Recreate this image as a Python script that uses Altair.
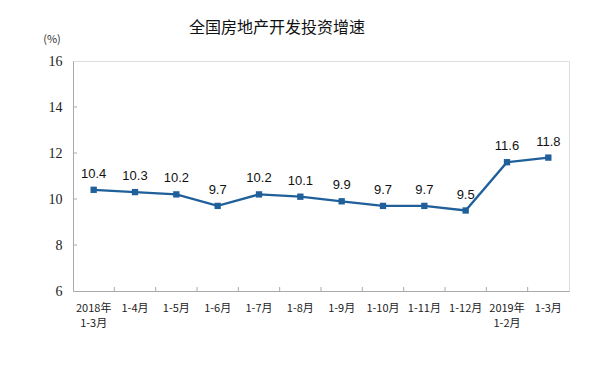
import altair as alt
import pandas as pd

categories = ["2018年|1-3月", "1-4月", "1-5月", "1-6月", "1-7月", "1-8月", "1-9月",
              "1-10月", "1-11月", "1-12月", "2019年|1-2月", "1-3月 "]
values = [10.4, 10.3, 10.2, 9.7, 10.2, 10.1, 9.9, 9.7, 9.7, 9.5, 11.6, 11.8]
y_ticks = [6, 8, 10, 12, 14, 16]
title_text = "全国房地产开发投资增速"
unit_text = "(%)"

df = pd.DataFrame({"cat": categories, "val": values})
color = "#1F5F9A"

x_enc = alt.X("cat:N", sort=categories, scale=alt.Scale(paddingInner=0, paddingOuter=0),
              axis=alt.Axis(title=None, labelAngle=0, labelExpr="split(datum.label, '|')",
                            labelFont="Noto Sans CJK SC", labelFontSize=11, labelColor="#222",
                            labelPadding=11, labelLineHeight=15, ticks=False,
                            domainColor="#aaa", labelBaseline="top"))
y_enc = alt.Y("val:Q", scale=alt.Scale(domain=[6, 16], nice=False, zero=False),
              axis=alt.Axis(title=None, values=y_ticks, grid=False, ticks=False,
                            labelFont="Liberation Serif", labelFontSize=14, labelColor="#222",
                            labelPadding=11, domainColor="#aaa"))

base = alt.Chart(df)
line = base.mark_line(color=color, strokeWidth=2.3).encode(x=x_enc, y=y_enc)
pts = base.mark_square(color=color, size=40, opacity=1).encode(x=x_enc, y=y_enc)
labels = base.mark_text(dy=-16, fontSize=13, font="Liberation Sans", color="#111").encode(
    x=x_enc, y=y_enc, text=alt.Text("val:Q", format=".1f"))

xt = base.transform_filter(alt.datum.cat != categories[0]).mark_rule(color="#aaa").encode(
    x=alt.X("cat:N", sort=categories, bandPosition=0), y=alt.value(230), y2=alt.value(226))
yt_df = pd.DataFrame({"t": y_ticks[1:-1]})
yt = alt.Chart(yt_df).mark_rule(color="#aaa").encode(
    y=alt.Y("t:Q"), x=alt.value(0), x2=alt.value(4))

title = alt.Chart(pd.DataFrame({"t": [title_text]})).mark_text(
    fontSize=16, font="Noto Sans CJK SC", color="#111").encode(
    text="t:N", x=alt.value(204), y=alt.value(-33))
unit = alt.Chart(pd.DataFrame({"t": [unit_text]})).mark_text(
    fontSize=11, font="Noto Sans CJK SC", color="#333").encode(
    text="t:N", x=alt.value(-21), y=alt.value(-21))

chart = alt.layer(line, pts, labels, xt, yt, title, unit).properties(
    width=496, height=230,
    autosize=alt.AutoSizeParams(type="none"),
    padding={"left": 65, "top": 53, "right": 30, "bottom": 60},
).configure_view(stroke="#aaa", strokeWidth=1).configure(background="white")

chart.save("out.html", embed_options={"renderer": "svg", "actions": False})
